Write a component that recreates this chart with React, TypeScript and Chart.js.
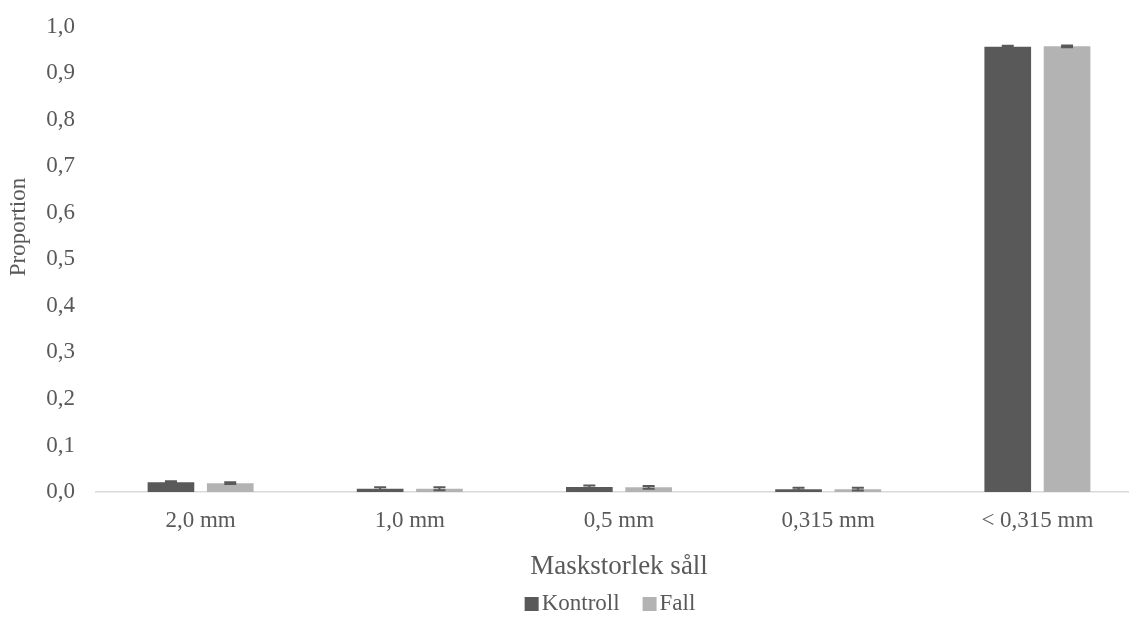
import React, { useEffect, useRef } from 'react';
import { Chart, registerables } from 'chart.js';

Chart.register(...registerables);

const categories = ['2,0 mm', '1,0 mm', '0,5 mm', '0,315 mm', '< 0,315 mm'];
const seriesNames = ['Kontroll', 'Fall'];
const kontrollValues = [0.021, 0.007, 0.011, 0.006, 0.957];
const fallValues = [0.019, 0.007, 0.010, 0.006, 0.958];
const kontrollErrors = [0.002, 0.003, 0.003, 0.003, 0.002];
const fallErrors = [0.002, 0.003, 0.003, 0.003, 0.002];
const seriesColors = ['#595959', '#b3b3b3'];
const yTitle = 'Proportion';
const xTitle = 'Maskstorlek såll';

const FONT = "'Liberation Serif', 'Times New Roman', serif";
const TEXT_COLOR = '#595959';
const SHIFT = 8;

const errorBarPlugin = {
  id: 'errorBars',
  afterDatasetsDraw(chart: any) {
    const ctx = chart.ctx;
    const yScale = chart.scales.y;
    chart.data.datasets.forEach((ds: any, di: number) => {
      const meta = chart.getDatasetMeta(di);
      const errs: number[] = ds.errors || [];
      meta.data.forEach((bar: any, i: number) => {
        const v = ds.data[i];
        const e = errs[i] || 0;
        const yTop = yScale.getPixelForValue(v + e);
        const yBot = yScale.getPixelForValue(Math.max(0, v - e));
        ctx.save();
        ctx.strokeStyle = '#595959';
        ctx.lineWidth = 2;
        ctx.beginPath();
        ctx.moveTo(bar.x, yTop);
        ctx.lineTo(bar.x, yBot);
        ctx.moveTo(bar.x - 6, yTop);
        ctx.lineTo(bar.x + 6, yTop);
        ctx.moveTo(bar.x - 6, yBot);
        ctx.lineTo(bar.x + 6, yBot);
        ctx.stroke();
        ctx.restore();
      });
    });
  },
};

const textPlugin = {
  id: 'customTexts',
  afterDraw(chart: any) {
    const ctx = chart.ctx;
    // y-axis title
    ctx.save();
    ctx.font = `23px ${FONT}`;
    ctx.fillStyle = TEXT_COLOR;
    ctx.textAlign = 'center';
    ctx.textBaseline = 'middle';
    ctx.translate(19, 227 + SHIFT);
    ctx.rotate(-Math.PI / 2);
    ctx.fillText(yTitle, 0, 0);
    ctx.restore();

    // legend
    const fontSize = 23;
    const box = 14;
    const gapBoxText = 3;
    const gapItems = 23;
    ctx.save();
    ctx.font = `${fontSize}px ${FONT}`;
    const widths = seriesNames.map((n) => box + gapBoxText + ctx.measureText(n).width);
    const total = widths.reduce((a, b) => a + b, 0) + gapItems * (seriesNames.length - 1);
    let x = chart.width / 2 - total / 2;
    const cy = chart.height - 17;
    seriesNames.forEach((n, i) => {
      ctx.fillStyle = seriesColors[i];
      ctx.fillRect(x, cy - box / 2, box, box);
      ctx.fillStyle = TEXT_COLOR;
      ctx.textBaseline = 'middle';
      ctx.textAlign = 'left';
      ctx.fillText(n, x + box + gapBoxText, cy);
      x += widths[i] + gapItems;
    });
    ctx.restore();
  },
};

export default function App() {
  const canvasRef = useRef<HTMLCanvasElement>(null);

  useEffect(() => {
    document.body.style.margin = '0';
    const canvas = canvasRef.current;
    if (!canvas) return;
    const chart = new Chart(canvas, {
      type: 'bar',
      data: {
        labels: categories,
        datasets: [
          {
            label: seriesNames[0],
            data: kontrollValues,
            errors: kontrollErrors,
            backgroundColor: seriesColors[0],
            categoryPercentage: 0.567,
            barPercentage: 0.787,
          } as any,
          {
            label: seriesNames[1],
            data: fallValues,
            errors: fallErrors,
            backgroundColor: seriesColors[1],
            categoryPercentage: 0.567,
            barPercentage: 0.787,
          } as any,
        ],
      },
      options: {
        responsive: false,
        animation: false,
        layout: { padding: { left: 0, right: 78, top: 5, bottom: 38 } },
        plugins: {
          legend: { display: false },
          tooltip: { enabled: false },
        },
        scales: {
          x: {
            grid: { display: false, drawTicks: false },
            border: { display: true, color: '#d9d9d9', width: 1.5 },
            ticks: {
              color: TEXT_COLOR,
              font: { family: FONT, size: 23 },
              padding: 15,
            },
            title: {
              display: true,
              text: xTitle,
              color: TEXT_COLOR,
              font: { family: FONT, size: 27 },
              padding: { top: 1, bottom: 0 },
            },
          },
          y: {
            min: 0,
            max: 1,
            grid: { display: false, drawTicks: false },
            border: { display: false },
            ticks: {
              stepSize: 0.1,
              color: TEXT_COLOR,
              font: { family: FONT, size: 23 },
              padding: 21,
              callback: (v: any) => Number(v).toFixed(1).replace('.', ','),
            },
            title: { display: false },
            afterFit: (scale: any) => {
              scale.width = 96;
            },
          },
        },
      } as any,
      plugins: [errorBarPlugin, textPlugin],
    });
    return () => chart.destroy();
  }, []);

  return (
    <div style={{ width: 1129, height: 621, overflow: 'hidden', position: 'relative', background: '#fff' }}>
      <canvas
        ref={canvasRef}
        width={1220}
        height={621 + SHIFT}
        style={{ display: 'block', marginTop: -SHIFT }}
      />
    </div>
  );
}
